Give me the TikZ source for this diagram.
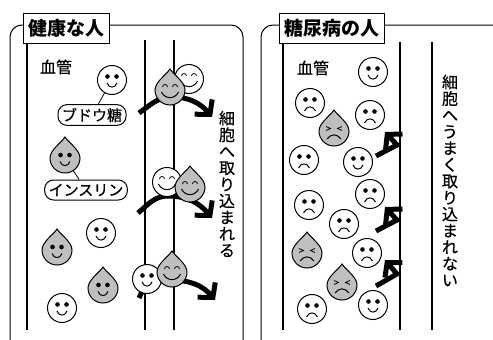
\documentclass[tikz,border=0pt]{standalone}
\usepackage{fontspec}
\setmainfont{Noto Sans CJK JP}
\newfontfamily\jpmed[FakeBold=0.6]{Noto Sans CJK JP}
\usetikzlibrary{arrows.meta}

\tikzset{
  frame/.style={line width=1pt, rounded corners=12pt},
  title/.style={draw, fill=white, line width=1pt, minimum height=30pt, inner xsep=5pt,
    font=\fontsize{19}{19}\selectfont\bfseries},
  tag/.style={draw, fill=white, line width=1pt, rounded corners=9pt, minimum height=20pt,
    inner xsep=4pt, font=\jpmed\fontsize{15}{15}\selectfont},
  vessel/.style={line width=2.6pt},
  uptake/.style={line width=5pt, -{Straight Barb[length=10pt,width=23pt]}},
  tate/.style={align=center, inner sep=0pt, font=\jpmed\fontsize{16}{16.5}\selectfont},
  face/.style={circle, draw, fill=white, line width=1pt, minimum size=29pt, inner sep=0pt},
  hull/.style={draw, fill=black!25, line width=1pt},
  % white faces
  dotface/.pic={
    \node[face] (-body) {};
    \fill (-4.5,3.5) circle (2.3); \fill (4.5,3.5) circle (2.3);
    \draw[line width=1pt] (-5,-3) .. controls (-3,-8.5) and (3,-8.5) .. (5,-3);
  },
  sadface/.pic={
    \node[face] (-body) {};
    \fill (-4.5,3.5) circle (2.3); \fill (4.5,3.5) circle (2.3);
    \draw[line width=1pt] (-5.5,-8) .. controls (-3,-2.5) and (3,-2.5) .. (5.5,-8);
  },
  joyface/.pic={
    \node[face] (-body) {};
    \draw[line width=0.8pt] (-7.5,3) arc[start angle=180,end angle=0,radius=2.5];
    \draw[line width=0.8pt] (2.5,3) arc[start angle=180,end angle=0,radius=2.5];
    \draw[line width=1pt] (-8.5,-2) .. controls (-5,-9.5) and (5,-9.5) .. (8.5,-2);
  },
  % insulin drops
  drophull/.pic={
    \draw[hull] (0,21) .. controls (4,15) and (15,8) .. (15,0)
      arc[start angle=0,end angle=-180,radius=15]
      .. controls (-15,8) and (-4,15) .. (0,21) -- cycle;
  },
  dotdrop/.pic={
    \pic (-d) {drophull};
    \node[circle, minimum size=30pt, inner sep=0pt] (-body) {};
    \fill (-4.5,3) circle (2.3); \fill (4.5,3) circle (2.3);
    \draw[line width=1pt] (-5,-3.5) .. controls (-3,-9) and (3,-9) .. (5,-3.5);
  },
  joydrop/.pic={
    \pic (-d) {drophull};
    \node[circle, minimum size=30pt, inner sep=0pt] (-body) {};
    \draw[line width=0.8pt] (-7.5,3) arc[start angle=180,end angle=0,radius=2.5];
    \draw[line width=0.8pt] (2.5,3) arc[start angle=180,end angle=0,radius=2.5];
    \draw[line width=1pt] (-8.5,-2) .. controls (-5,-9.5) and (5,-9.5) .. (8.5,-2);
  },
  angrydrop/.pic={
    \pic (-d) {drophull};
    \node[circle, minimum size=30pt, inner sep=0pt] (-body) {};
    \draw[line width=0.8pt] (-8,4.5) -- (-3.5,2.5) -- (-8,0.5);
    \draw[line width=0.8pt] (8,4.5) -- (3.5,2.5) -- (8,0.5);
    \draw[line width=1pt] (-7,-8) .. controls (-3,-2.5) and (3,-2.5) .. (7,-8);
  },
}

\begin{document}
\begin{tikzpicture}[x=1pt,y=1pt]
\useasboundingbox (0,0) rectangle (493,-340);
\clip (0,0) rectangle (493,-340);

% panels
\draw[frame] (10,-360) rectangle (243,-25);
\draw[frame] (261,-360) rectangle (530,-25);

% blood vessel walls
\draw[vessel] (27,-43) -- (27,-330);
\draw[vessel] (145,-40) -- (145,-330);
\draw[vessel] (174,-40) -- (174,-330);
\draw[vessel] (283,-43) -- (283,-330);
\draw[vessel] (400,-42) -- (400,-330);
\draw[vessel] (432,-42) -- (432,-330);

\node[title] (healthy) at (66,-28) {健康な人};
\node[title] (diabetic) at (331.5,-28) {糖尿病の人};

%% healthy person
\node[font=\jpmed\fontsize{16}{16}\selectfont] (vesselL) at (56,-67) {血管};
\pic (glu) at (112,-80) {dotface};
\node[tag] (sugar) at (92,-115) {ブドウ糖};
\draw[line width=0.8pt] (glu-body) -- (sugar);
\pic (ins) at (65,-158) {dotdrop};
\node[tag] (insulin) at (86,-190) {インスリン};
\draw[line width=0.8pt] (ins-body) -- (insulin);

\pic at (57,-250) {dotdrop};
\pic at (101,-233) {dotface};
\pic at (103,-288) {dotdrop};
\pic at (62,-308) {dotface};

% glucose taken into the cell
\draw[uptake] (139,-113) to[out=35,in=180] (172,-97) to[out=0,in=130] (212,-117);
\pic at (189,-79) {joyface};
\pic at (170,-90) {joydrop};

\draw[uptake] (138,-213) to[out=40,in=180] (168,-196) to[out=0,in=130] (212,-218);
\pic at (167,-182) {joyface};
\pic at (190,-187) {joydrop};

\draw[uptake] (139,-298) to[out=70,in=180] (170,-280) to[out=0,in=130] (215,-300);
\pic at (147,-279) {dotface};
\pic at (172,-272) {joydrop};

\node[tate] (intoL) at (227,-184)
  {細\\胞\\へ\\取\\り\\込\\ま\\れ\\る};

%% diabetic person
\node[font=\jpmed\fontsize{16}{16}\selectfont] (vesselR) at (313,-68) {血管};
\pic at (373,-72) {dotface};
\pic at (310,-103) {sadface};
\pic at (370,-115) {sadface};
\pic at (334,-131) {angrydrop};
\pic at (304,-160) {sadface};
\pic at (358,-162) {dotface};
\pic at (370,-194) {sadface};
\pic at (309,-205) {sadface};
\pic at (344,-224) {sadface};
\pic at (307,-253) {angrydrop};
\pic at (367,-253) {sadface};
\pic at (342,-285) {angrydrop};
\pic at (312,-309) {sadface};
\pic at (373,-305) {dotface};

% glucose bouncing off the wall
\draw[uptake] (376,-156) -- (397,-145) -- (385,-132);
\draw[uptake] (376,-231) -- (397,-220) -- (385,-207);
\draw[uptake] (376,-286) -- (397,-274) -- (385,-260);

\node[tate] (intoR) at (450,-180.5)
  {細\\胞\\へ\\う\\ま\\く\\取\\り\\込\\ま\\れ\\な\\い};
\end{tikzpicture}
\end{document}
